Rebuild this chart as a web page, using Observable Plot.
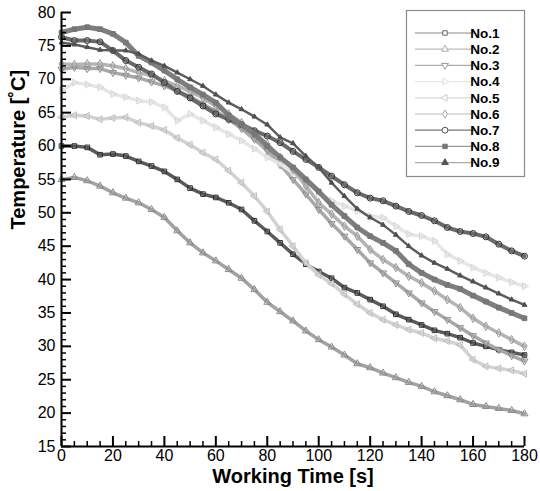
<!DOCTYPE html>
<html><head><meta charset="utf-8">
<script src="https://cdn.jsdelivr.net/npm/d3@7"></script>
<script src="https://cdn.jsdelivr.net/npm/@observablehq/plot@0.6"></script>
<style>body{margin:0;background:#fff}</style>
</head><body><div id="chart"></div>
<script>
const time = [0,5,10,15,20,25,30,35,40,45,50,55,60,65,70,75,80,85,90,95,100,105,110,115,120,125,130,135,140,145,150,155,160,165,170,175,180];
const no1 = [60,60,59.8,58.7,58.8,58.5,57.7,57,56.2,55,53.7,52.8,52.3,51.5,50.5,48.8,47.2,45.5,43.8,42.3,41.2,40.2,38.8,38,37,36,34.8,34,33.2,32.4,31.9,31.3,30.5,30,29.5,29.1,28.7];
const no2 = [55,55.3,54.8,54,53,52.2,51.5,50.5,49.3,47.3,45.5,44,42.8,41.5,40.2,38.5,36.6,35.2,33.8,32.3,31,29.9,28.7,27.4,26.8,26,25.3,24.6,24,23.2,22.6,22,21.3,21,20.7,20.4,19.9];
const no3 = [71.5,71.8,71.6,71.6,71,70.6,70.2,69.6,69,68.3,67.4,66.3,65.2,64,62.6,61,59.3,57.2,55,52.8,50.5,48.4,46.5,44.5,42.5,41,39.5,38,36.5,35.2,34,32.8,31.6,30.5,29.5,28.6,27.8];
const no4 = [68.3,69.5,69.2,68.8,67.8,67.3,66.8,66.6,65.8,63.8,64.8,63.8,62.8,61.8,60.8,59.6,58.3,57.3,56,54.5,53,51.8,51,50.3,49.5,49.3,48,46.8,46.5,45.8,43.8,42.8,41.8,41,40.3,39.6,39];
const no5 = [64.3,64.6,64.5,64,64.2,64.3,63.5,63,62.4,61.2,60.2,59,58,56.3,54.5,52.5,50.2,47.5,45,42.5,40.7,39.4,37.8,36.3,35,34,33.2,32.5,32,31.2,30.8,30.2,28,27,26.7,26.4,25.9];
const no6 = [72.3,72.2,72.3,72.3,72,71.6,71,70.5,69.8,69,68.2,67.2,66,64.8,63.5,62,60.3,58.3,56.5,54,51.5,49.8,48,46.5,44.5,43,41.8,40.5,39.5,38.3,37,35.8,34.2,33,32,31,30];
const no7 = [76.3,75.8,75.8,75.6,74.3,72.8,71.8,70.8,69.5,68.2,67.2,66,64.8,64,63.2,62.3,61.5,60.5,59.2,58,56.8,55.5,54.2,53,52.2,51.8,51,50.2,49.6,48.8,47.8,47.2,46.9,46.4,45.3,44.3,43.5];
const no8 = [77,77.5,77.8,77.5,76.8,75.5,73.5,72.5,71.3,70,68.8,67.7,66.5,64.6,63.2,61.8,60,58.3,56.8,55,53.2,51.2,49.5,47.8,46.5,45.5,44.3,42.3,41,40,39.2,38.6,37.6,36.7,35.8,35,34.2];
const no9 = [75.5,75.2,74.8,74.4,74.3,74.3,73.8,72.8,72,71,70,69,67.7,66.5,65.5,64.4,63.2,61.3,60.4,58.5,56.8,54.5,52.5,50.6,49.3,48.2,46.7,45,43.6,42.5,41.6,40.6,39.7,38.8,37.9,37,36.2];
const seriesNames = ["No.1","No.2","No.3","No.4","No.5","No.6","No.7","No.8","No.9"];
const seriesValues = [no1,no2,no3,no4,no5,no6,no7,no8,no9];
const xTicks = [0,20,40,60,80,100,120,140,160,180];
const yTicks = [15,20,25,30,35,40,45,50,55,60,65,70,75,80];
const xMinor = d3.range(0,181,5).filter(v => !xTicks.includes(v));
const yMinor = d3.range(15,81,1).filter(v => !yTicks.includes(v));

const styles = {
  "No.1": {line:"#5a5a5a", mark:"#2e2e2e", symbol:"square", rotate:0, fill:"none", r:2.6, sw:3.5, legLine:"#888", legMark:"#666"},
  "No.2": {line:"#a2a2a2", mark:"#8a8a8a", symbol:"triangle", rotate:0, fill:"none", r:2.6, sw:3.5, legLine:"#bbb", legMark:"#aaa"},
  "No.3": {line:"#a8a8a8", mark:"#8e8e8e", symbol:"triangle", rotate:180, fill:"none", r:2.6, sw:3.5, legLine:"#aaa", legMark:"#999"},
  "No.4": {line:"#e6e6e6", mark:"#d6d6d6", symbol:"triangle", rotate:90, fill:"none", r:2.6, sw:3.5, legLine:"#e8e8e8", legMark:"#ddd"},
  "No.5": {line:"#d2d2d2", mark:"#bdbdbd", symbol:"triangle", rotate:-90, fill:"none", r:2.6, sw:3.5, legLine:"#d8d8d8", legMark:"#ccc"},
  "No.6": {line:"#b4b4b4", mark:"#979797", symbol:"diamond", rotate:0, fill:"none", r:2.6, sw:3.5, legLine:"#bbb", legMark:"#aaa"},
  "No.7": {line:"#6a6a6a", mark:"#333333", symbol:"circle", rotate:0, fill:"none", r:3, sw:4, legLine:"#777", legMark:"#555"},
  "No.8": {line:"#7e7e7e", mark:"#777777", symbol:"square", rotate:0, fill:"#777777", r:2.6, sw:5, legLine:"#999", legMark:"#777"},
  "No.9": {line:"#5c5c5c", mark:"#505050", symbol:"triangle", rotate:0, fill:"#505050", r:1.8, sw:2.4, legLine:"#aaa", legMark:"#555"}
};

const W = 540, H = 491, ML = 61, MR = 16, MT = 12, MB = 45;
const frameW = W - ML - MR, frameH = H - MT - MB;

const rows = seriesNames.flatMap((n, i) => time.map((t, j) => ({series: n, t, v: seriesValues[i][j]})));

const seriesMarks = seriesNames.flatMap(n => {
  const s = styles[n];
  const d = rows.filter(r => r.series === n);
  return [
    Plot.line(d, {x: "t", y: "v", stroke: s.line, strokeWidth: s.sw}),
    Plot.dot(d, {x: "t", y: "v", symbol: s.symbol, r: s.r, stroke: s.mark, fill: s.fill, strokeWidth: 1, rotate: s.rotate})
  ];
});

const plot = Plot.plot({
  width: W, height: H,
  marginLeft: ML, marginRight: MR, marginTop: MT, marginBottom: MB,
  style: {fontFamily: "'Liberation Sans', Arial, sans-serif", fontSize: "16px", color: "black", background: "white"},
  x: {domain: [0, 180]},
  y: {domain: [15, 80]},
  marks: [
    ...seriesMarks,
    Plot.ruleX(xTicks, {x: d => d, insetTop: frameH - 10, stroke: "black", strokeWidth: 2}),
    Plot.ruleX(xMinor, {x: d => d, insetTop: frameH - 5, stroke: "black", strokeWidth: 1.5}),
    Plot.ruleY(yTicks, {y: d => d, insetRight: frameW - 10, stroke: "black", strokeWidth: 2}),
    Plot.ruleY(yMinor, {y: d => d, insetRight: frameW - 5, stroke: "black", strokeWidth: 1.5}),
    Plot.ruleX([0], {stroke: "black", strokeWidth: 2}),
    Plot.ruleY([15], {stroke: "black", strokeWidth: 2}),
    Plot.axisX({ticks: xTicks, tickSize: 0, tickPadding: 3, fontSize: 16, label: null, tickFormat: d => String(d)}),
    Plot.axisY({ticks: yTicks, tickSize: 0, tickPadding: 6, fontSize: 16, label: null, tickFormat: d => String(d)}),
    Plot.text(["Working Time [s]"], {frameAnchor: "bottom", lineAnchor: "middle", dy: 30, fontWeight: "bold", fontSize: 20}),
    Plot.text(["Temperature [˚C]"], {frameAnchor: "left", dx: -43, rotate: -90, fontWeight: "bold", fontSize: 20})
  ]
});

document.getElementById("chart").appendChild(plot);

// legend
const svg = d3.select(plot);
const lg = svg.append("g").attr("font-family", "'Liberation Sans', Arial, sans-serif");
lg.append("rect").attr("x", 406.5).attr("y", 10.5).attr("width", 118).attr("height", 166)
  .attr("fill", "white").attr("stroke", "#8a8a8a").attr("stroke-width", 1.2);
const symMap = {square: d3.symbolSquare, triangle: d3.symbolTriangle, diamond: d3.symbolDiamond, circle: d3.symbolCircle};
seriesNames.forEach((n, i) => {
  const s = styles[n];
  const y = 33 + i * 16.2;
  const rr = n === "No.7" ? 3.3 : 2.8;
  lg.append("line").attr("x1", 415).attr("x2", 475).attr("y1", y).attr("y2", y).attr("stroke", s.legLine).attr("stroke-width", 1.2);
  lg.append("path").attr("d", d3.symbol(symMap[s.symbol], Math.PI * rr * rr * 0.8)())
    .attr("transform", `translate(445,${y}) rotate(${s.rotate})`)
    .attr("fill", s.fill === "none" ? "white" : s.legMark).attr("stroke", s.legMark).attr("stroke-width", 1);
  lg.append("text").attr("x", 485).attr("y", y).attr("dy", "0.36em").attr("font-size", 13.5).attr("font-weight", "bold").attr("fill", "black").text(n);
});
</script>
</body></html>
